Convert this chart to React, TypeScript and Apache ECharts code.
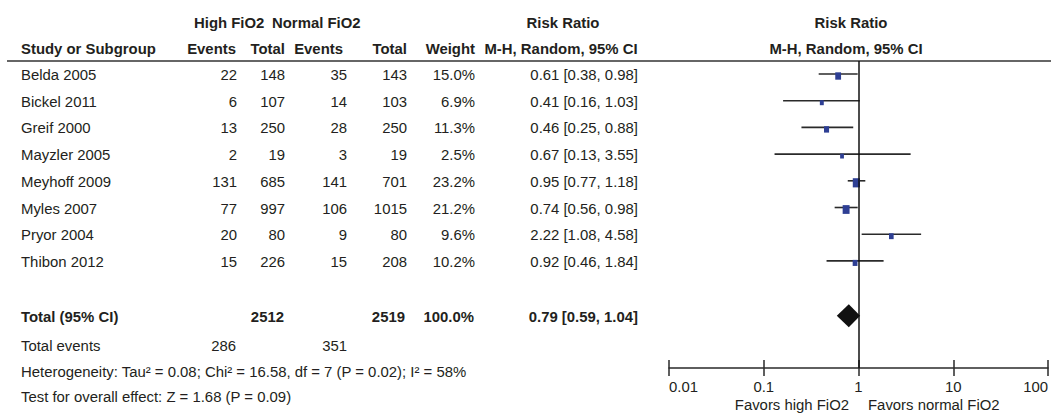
import React, { useEffect, useRef } from "react";
import * as echarts from "echarts";

const studies = ["Belda 2005", "Bickel 2011", "Greif 2000", "Mayzler 2005", "Meyhoff 2009", "Myles 2007", "Pryor 2004", "Thibon 2012"];
const highEvents = [22, 6, 13, 2, 131, 77, 20, 15];
const highTotal = [148, 107, 250, 19, 685, 997, 80, 226];
const normalEvents = [35, 14, 28, 3, 141, 106, 9, 15];
const normalTotal = [143, 103, 250, 19, 701, 1015, 80, 208];
const weights = [15.0, 6.9, 11.3, 2.5, 23.2, 21.2, 9.6, 10.2];
const rr = [0.61, 0.41, 0.46, 0.67, 0.95, 0.74, 2.22, 0.92];
const lower = [0.38, 0.16, 0.25, 0.13, 0.77, 0.56, 1.08, 0.46];
const upper = [0.98, 1.03, 0.88, 3.55, 1.18, 0.98, 4.58, 1.84];

const totalLabel = "Total (95% CI)";
const totalHigh = 2512;
const totalNormal = 2519;
const totalWeight = 100.0;
const totalRR = 0.79;
const totalLower = 0.59;
const totalUpper = 1.04;
const totalEventsHigh = 286;
const totalEventsNormal = 351;
const heterogeneityText = "Heterogeneity: Tau² = 0.08; Chi² = 16.58, df = 7 (P = 0.02); I² = 58%";
const overallEffectText = "Test for overall effect: Z = 1.68 (P = 0.09)";

const tickLabels = ["0.01", "0.1", "1", "10", "100"];
const tickValues = [0.01, 0.1, 1, 10, 100];
const favorsLeft = "Favors high FiO2";
const favorsRight = "Favors normal FiO2";

const FONT = '"Liberation Sans", Arial, Helvetica, sans-serif';
const FS = 14.9;
const TXT = "#231f20";
const BLUE = "#2e3f94";
const LINE = "#2a2a2a";

const fmtCI = (m: number, l: number, u: number) => `${m.toFixed(2)} [${l.toFixed(2)}, ${u.toFixed(2)}]`;

function txt(text: string, x: number, y: number, align: string, bold = false) {
  return {
    type: "text",
    silent: true,
    style: {
      text,
      x,
      y,
      align,
      verticalAlign: "middle",
      fill: TXT,
      fontFamily: FONT,
      fontSize: FS,
      fontWeight: bold ? "bold" : "normal",
    },
  };
}

export default function App() {
  const ref = useRef<HTMLDivElement>(null);

  useEffect(() => {
    document.body.style.margin = "0";
    const chart = echarts.init(ref.current!, null, { renderer: "svg" });

    const studyData = studies.map((_, i) => [rr[i], i, lower[i], upper[i]]);
    const TOTAL_ROW = 9.05;

    const option: any = {
      animation: false,
      backgroundColor: "#ffffff",
      grid: { left: 669, right: 1, top: 61, bottom: 46, containLabel: false },
      xAxis: [
        {
          type: "log",
          logBase: 10,
          min: 0.01,
          max: 100,
          position: "bottom",
          axisLine: { show: true, onZero: false, lineStyle: { color: LINE, width: 1.5 } },
          axisTick: { show: true, length: 8, lineStyle: { color: LINE, width: 1.5 } },
          axisLabel: {
            show: true,
            margin: 11,
            color: TXT,
            fontFamily: FONT,
            fontSize: FS,
            alignMinLabel: "left",
            alignMaxLabel: "right",
            formatter: (v: number) => {
              const k = tickValues.findIndex((t) => Math.abs(Math.log10(t) - Math.log10(v)) < 1e-6);
              return k >= 0 ? tickLabels[k] : "";
            },
          },
          splitLine: { show: false },
          minorTick: { show: false },
        },
        {
          type: "log",
          logBase: 10,
          min: 0.01,
          max: 100,
          position: "bottom",
          axisLine: { show: false, onZero: false },
          axisTick: { show: true, inside: true, length: 8, lineStyle: { color: LINE, width: 1.5 } },
          axisLabel: { show: false },
          splitLine: { show: false },
        },
      ],
      yAxis: {
        type: "value",
        inverse: true,
        min: -0.487,
        max: 11.011,
        show: false,
        splitLine: { show: false },
      },
      series: [
        {
          type: "custom",
          name: "studies",
          xAxisIndex: 0,
          clip: false,
          data: studyData,
          encode: { x: [0, 2, 3], y: 1 },
          renderItem: (params: any, api: any) => {
            const i = params.dataIndex;
            const row = api.value(1);
            const c = api.coord([api.value(0), row]);
            const l = api.coord([api.value(2), row]);
            const u = api.coord([api.value(3), row]);
            const y = c[1];
            const w = Math.max(3.8, 1.5 * Math.sqrt(weights[i]));
            const h = Math.max(4, w * 1.27);
            return {
              type: "group",
              children: [
                {
                  type: "line",
                  shape: { x1: l[0], y1: y, x2: u[0], y2: y },
                  style: { stroke: LINE, lineWidth: 1.6 },
                },
                {
                  type: "rect",
                  shape: { x: c[0] - w / 2, y: y + 2 - h / 2, width: w, height: h },
                  style: { fill: BLUE },
                },
                txt(studies[i], 21, y + 1, "left"),
                txt(String(highEvents[i]), 237, y + 1, "right"),
                txt(String(highTotal[i]), 285, y + 1, "right"),
                txt(String(normalEvents[i]), 347, y + 1, "right"),
                txt(String(normalTotal[i]), 407, y + 1, "right"),
                txt(weights[i].toFixed(1) + "%", 475, y + 1, "right"),
                txt(fmtCI(rr[i], lower[i], upper[i]), 638, y + 1, "right"),
              ],
            };
          },
          markLine: {
            silent: true,
            symbol: "none",
            label: { show: false },
            lineStyle: { color: "#111", width: 1.5, type: "solid" },
            data: [{ xAxis: 1 }],
          },
          z: 3,
        },
        {
          type: "custom",
          name: "total",
          xAxisIndex: 0,
          clip: false,
          data: [[totalRR, TOTAL_ROW, totalLower, totalUpper]],
          encode: { x: [0, 2, 3], y: 1 },
          renderItem: (params: any, api: any) => {
            const row = api.value(1);
            const c = api.coord([api.value(0), row]);
            const l = api.coord([api.value(2), row]);
            const u = api.coord([api.value(3), row]);
            const y = c[1];
            const hh = 11.5;
            return {
              type: "group",
              children: [
                {
                  type: "polygon",
                  shape: { points: [[l[0], y], [c[0], y - hh], [u[0], y], [c[0], y + hh]] },
                  style: { fill: "#111" },
                },
                txt(totalLabel, 21, y + 1, "left", true),
                txt(String(totalHigh), 284, y + 1, "right", true),
                txt(String(totalNormal), 405, y + 1, "right", true),
                txt(totalWeight.toFixed(1) + "%", 474, y + 1, "right", true),
                txt(fmtCI(totalRR, totalLower, totalUpper), 638, y + 1, "right", true),
              ],
            };
          },
          z: 4,
        },
      ],
      graphic: [
        txt("High FiO2", 194, 23, "left", true),
        txt("Normal FiO2", 272, 23, "left", true),
        txt("Risk Ratio", 563, 23, "center", true),
        txt("Risk Ratio", 851, 23, "center", true),
        txt("Study or Subgroup", 21, 49, "left", true),
        txt("Events", 236, 49, "right", true),
        txt("Total", 285, 49, "right", true),
        txt("Events", 343, 49, "right", true),
        txt("Total", 407, 49, "right", true),
        txt("Weight", 475, 49, "right", true),
        txt("M-H, Random, 95% CI", 561, 49, "center", true),
        txt("M-H, Random, 95% CI", 846, 49, "center", true),
        {
          type: "line",
          silent: true,
          shape: { x1: 7, y1: 61, x2: 1051, y2: 61 },
          style: { stroke: "#333", lineWidth: 1.5 },
        },
        txt("Total events", 21, 346, "left"),
        txt(String(totalEventsHigh), 236, 346, "right"),
        txt(String(totalEventsNormal), 347, 346, "right"),
        txt(heterogeneityText, 21, 371.5, "left"),
        txt(overallEffectText, 21, 397, "left"),
        txt(favorsLeft, 849, 405, "right"),
        txt(favorsRight, 868, 405, "left"),
      ],
    };

    chart.setOption(option);
    return () => chart.dispose();
  }, []);

  return <div ref={ref} style={{ width: 1051, height: 414 }} />;
}
